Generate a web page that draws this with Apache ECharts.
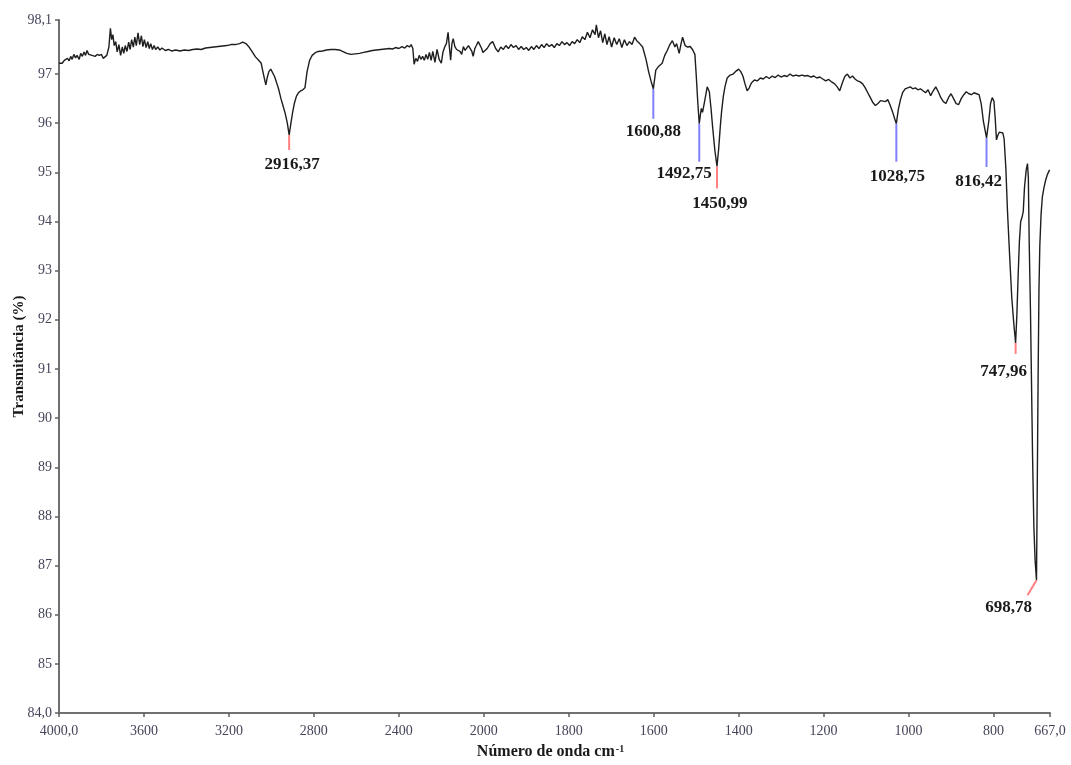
<!DOCTYPE html>
<html>
<head>
<meta charset="utf-8">
<script src="https://cdn.jsdelivr.net/npm/echarts@6/dist/echarts.min.js"></script>
<style>
  html, body { margin: 0; padding: 0; background: #ffffff; }
  #chart { width: 1071px; height: 765px; }
</style>
</head>
<body>
<div id="chart"></div>
<script>
// FTIR spectrum: wavenumber (cm-1) and transmittance (%)
const wavenumber = [
  4000, 3992, 3985, 3975, 3968, 3960, 3952, 3945, 3938, 3930,
  3922, 3915, 3905, 3898, 3890, 3882, 3875, 3868, 3860, 3852,
  3845, 3838, 3830, 3820, 3810, 3800, 3792, 3784, 3775, 3765,
  3758, 3752, 3746, 3740, 3733, 3726, 3718, 3710, 3702, 3695,
  3688, 3680, 3672, 3665, 3658, 3650, 3643, 3636, 3628, 3620,
  3612, 3605, 3598, 3590, 3582, 3575, 3568, 3560, 3552, 3545,
  3535, 3525, 3515, 3500, 3485, 3470, 3450, 3430, 3410, 3390,
  3370, 3350, 3330, 3310, 3290, 3270, 3250, 3230, 3210, 3190,
  3170, 3150, 3135, 3120, 3105, 3090, 3075, 3060, 3048, 3040,
  3030, 3026, 3020, 3012, 3003, 2995, 2985, 2975, 2965, 2955,
  2945, 2935, 2925, 2916.37, 2908, 2900, 2892, 2882, 2872, 2862,
  2852, 2842, 2832, 2820, 2808, 2795, 2780, 2760, 2740, 2720,
  2700, 2680, 2660, 2645, 2625, 2605, 2585, 2565, 2545, 2525,
  2505, 2485, 2465, 2445, 2430, 2415, 2400, 2385, 2372, 2360,
  2350, 2342, 2334, 2328, 2320, 2312, 2304, 2296, 2288, 2280,
  2272, 2264, 2256, 2248, 2240, 2230, 2220, 2210, 2200, 2192,
  2184, 2176, 2168, 2162, 2156, 2150, 2144, 2136, 2128, 2120,
  2112, 2104, 2096, 2088, 2080, 2072, 2064, 2056, 2050, 2042,
  2035, 2026, 2018, 2010, 2004, 1998, 1992, 1985, 1979, 1972,
  1966, 1960, 1954, 1948, 1942, 1936, 1930, 1924, 1918, 1912,
  1906, 1900, 1894, 1888, 1882, 1876, 1870, 1864, 1858, 1852,
  1846, 1840, 1834, 1828, 1822, 1816, 1810, 1804, 1798, 1792,
  1786, 1780, 1774, 1768, 1762, 1756, 1750, 1744, 1738, 1735,
  1730, 1725, 1720, 1715, 1710, 1705, 1699, 1693, 1687, 1681,
  1675, 1669, 1663, 1657, 1651, 1645, 1640, 1633, 1626, 1618,
  1612, 1606, 1600.88, 1595, 1588, 1580, 1574, 1568, 1562, 1556,
  1550, 1546, 1540, 1536, 1532, 1526, 1520, 1514, 1508, 1503,
  1500, 1496, 1492.75, 1488, 1485, 1480, 1474, 1469, 1465, 1461,
  1456, 1450.99, 1447, 1443, 1440, 1436, 1432, 1427, 1420, 1413,
  1406, 1400, 1395, 1390, 1385, 1380, 1375, 1370, 1363, 1356,
  1349, 1342, 1335, 1328, 1321, 1314, 1307, 1300, 1293, 1286,
  1279, 1272, 1265, 1258, 1251, 1244, 1237, 1230, 1223, 1216,
  1209, 1202, 1195, 1188, 1181, 1174, 1168, 1162, 1156, 1150,
  1144, 1138, 1132, 1126, 1120, 1114, 1108, 1102, 1096, 1090,
  1084, 1078, 1072, 1066, 1060, 1054, 1049, 1044, 1038, 1033,
  1028.75, 1024, 1019, 1014, 1008, 1002, 996, 990, 984, 978,
  972, 966, 960, 954, 948, 942, 936, 930, 924, 918,
  912, 906, 900, 894, 888, 882, 876, 870, 864, 858,
  852, 846, 840, 834, 829, 824, 816.42, 811, 807, 803,
  799, 796, 793, 790, 786, 782, 778, 775, 771, 767,
  762, 757, 752, 747.96, 745, 742, 739, 736, 733, 730,
  727, 723, 720, 718, 716, 713, 711, 708, 705, 702,
  698.78, 697, 695, 693, 691, 688, 685, 681, 677, 673,
  668
];

const transmittance = [
  97.22, 97.25, 97.22, 97.28, 97.24, 97.32, 97.27, 97.36, 97.30, 97.40,
  97.33, 97.38, 97.30, 97.42, 97.36, 97.45, 97.38, 97.48, 97.40, 97.44,
  97.38, 97.42, 97.36, 97.40, 97.38, 97.40, 97.32, 97.28, 97.38, 97.55,
  97.93, 97.70, 97.80, 97.58, 97.66, 97.45, 97.60, 97.38, 97.55, 97.42,
  97.58, 97.46, 97.65, 97.50, 97.70, 97.55, 97.75, 97.58, 97.84, 97.60,
  97.78, 97.56, 97.70, 97.54, 97.66, 97.52, 97.62, 97.50, 97.58, 97.50,
  97.55, 97.49, 97.53, 97.48, 97.50, 97.47, 97.49, 97.47, 97.49, 97.48,
  97.50, 97.51, 97.50, 97.53, 97.54, 97.55, 97.56, 97.57, 97.58, 97.60,
  97.60, 97.62, 97.65, 97.62, 97.55, 97.45, 97.35, 97.28, 97.22, 97.05,
  96.85, 96.78, 96.92, 97.05, 97.10, 97.06, 96.95, 96.82, 96.68, 96.50,
  96.35, 96.20, 96.00, 95.76, 96.00, 96.22, 96.40, 96.55, 96.62, 96.66,
  96.68, 96.72, 97.05, 97.28, 97.38, 97.43, 97.46, 97.47, 97.49, 97.50,
  97.50, 97.49, 97.45, 97.42, 97.40, 97.41, 97.42, 97.44, 97.46, 97.48,
  97.49, 97.50, 97.51, 97.52, 97.51, 97.54, 97.52, 97.56, 97.53, 97.58,
  97.55, 97.60, 97.52, 97.20, 97.32, 97.26, 97.38, 97.30, 97.36, 97.28,
  97.40, 97.30, 97.44, 97.28, 97.46, 97.24, 97.50, 97.30, 97.22, 97.45,
  97.55, 97.62, 97.85, 97.55, 97.28, 97.62, 97.72, 97.56, 97.50, 97.54,
  97.46, 97.40, 97.56, 97.48, 97.44, 97.58, 97.62, 97.46, 97.36, 97.52,
  97.58, 97.66, 97.70, 97.52, 97.44, 97.40, 97.52, 97.62, 97.66, 97.52,
  97.45, 97.55, 97.50, 97.58, 97.52, 97.60, 97.54, 97.58, 97.50, 97.56,
  97.50, 97.54, 97.48, 97.56, 97.50, 97.58, 97.52, 97.60, 97.54, 97.62,
  97.56, 97.60, 97.54, 97.62, 97.58, 97.66, 97.60, 97.64, 97.58, 97.66,
  97.62, 97.70, 97.64, 97.76, 97.70, 97.85, 97.74, 97.90, 97.80, 98.00,
  97.74, 97.88, 97.64, 97.82, 97.60, 97.76, 97.55, 97.74, 97.60, 97.72,
  97.54, 97.70, 97.58, 97.66, 97.60, 97.75, 97.68, 97.62, 97.55, 97.30,
  97.05, 96.85, 96.70, 97.08, 97.16, 97.22, 97.38, 97.48, 97.60, 97.68,
  97.55, 97.62, 97.42, 97.60, 97.75, 97.58, 97.55, 97.56, 97.49, 97.40,
  97.00, 96.40, 95.99, 96.30, 96.22, 96.45, 96.74, 96.64, 96.30, 95.90,
  95.45, 95.12, 95.48, 95.95, 96.25, 96.55, 96.75, 96.92, 96.98, 97.00,
  97.06, 97.10, 97.05, 96.96, 96.80, 96.66, 96.72, 96.82, 96.88, 96.86,
  96.92, 96.90, 96.95, 96.91, 96.96, 96.93, 96.98, 96.94, 96.97, 96.95,
  97.00, 96.96, 96.98, 96.96, 96.98, 96.96, 96.97, 96.94, 96.96, 96.92,
  96.94, 96.90, 96.86, 96.89, 96.84, 96.80, 96.74, 96.66, 96.82, 96.95,
  97.00, 96.92, 96.96, 96.90, 96.86, 96.84, 96.80, 96.72, 96.62, 96.52,
  96.42, 96.36, 96.40, 96.46, 96.45, 96.44, 96.48, 96.38, 96.24, 96.10,
  95.99, 96.28, 96.48, 96.62, 96.70, 96.72, 96.74, 96.70, 96.72, 96.68,
  96.70, 96.66, 96.62, 96.68, 96.56, 96.66, 96.74, 96.64, 96.52, 96.44,
  96.40, 96.52, 96.60, 96.50, 96.40, 96.38, 96.50, 96.58, 96.64, 96.60,
  96.58, 96.62, 96.60, 96.58, 96.40, 96.05, 95.70, 96.05, 96.40, 96.52,
  96.45, 96.10, 95.66, 95.75, 95.82, 95.85, 95.80, 95.68, 95.10, 94.20,
  93.30, 92.45, 91.90, 91.53, 92.10, 92.90, 93.60, 94.00, 94.08, 94.20,
  94.70, 95.05, 95.18, 94.90, 93.60, 92.20, 91.00, 89.20, 87.80, 87.10,
  86.70, 88.60, 90.80, 92.60, 93.50, 94.15, 94.50, 94.70, 94.85, 94.96,
  95.05
];

// Axis ticks
const xTickLabels = [4000, 3600, 3200, 2800, 2400, 2000, 1800, 1600, 1400, 1200, 1000, 800, 667];
const yTickLabels = [84, 85, 86, 87, 88, 89, 90, 91, 92, 93, 94, 95, 96, 97, 98.1];

// Picked peaks
const peakWavenumber = [2916.37, 1600.88, 1492.75, 1450.99, 1028.75, 816.42, 747.96, 698.78];
const peakTransmittance = [95.76, 96.70, 95.99, 95.12, 95.99, 95.70, 91.53, 86.70];

// Callout drawing: marker stroke end (ex, ey) and label centre (dx, dy), in px from the peak
const RED = '#ff8080', BLUE = '#8080ff';
const calloutLayout = [
  { color: RED,  ex: 0,  ey: 15, dx: 3,   dy: 30 },
  { color: BLUE, ex: 0,  ey: 30, dx: 0,   dy: 43 },
  { color: BLUE, ex: 0,  ey: 38, dx: -15, dy: 50 },
  { color: RED,  ex: 0,  ey: 22, dx: 3,   dy: 37 },
  { color: BLUE, ex: 0,  ey: 38, dx: 1,   dy: 53 },
  { color: BLUE, ex: 0,  ey: 29, dx: -8,  dy: 44 },
  { color: RED,  ex: 0,  ey: 11, dx: -12, dy: 29 },
  { color: RED,  ex: -9, ey: 15, dx: -28, dy: 27 }
];

// The wavenumber axis is compressed 2:1 above 2000 cm-1
function toAxis(w) { return w >= 2000 ? 4000 - w : 2000 + 2 * (2000 - w); }
function fromAxis(t) { return t <= 2000 ? 4000 - t : 2000 - (t - 2000) / 2; }

const decimalComma = (v, d) => v.toFixed(d).replace('.', ',');
const xMin = toAxis(xTickLabels[0]);
const xMax = toAxis(xTickLabels[xTickLabels.length - 1]);
const yMin = yTickLabels[0];
const yMax = yTickLabels[yTickLabels.length - 1];

const spectrum = wavenumber.map((w, i) => [toAxis(w), transmittance[i]]);
const peaks = peakWavenumber.map((w, i) => [toAxis(w), peakTransmittance[i]]);

const SERIF = '"Liberation Serif", "Times New Roman", serif';
const chart = echarts.init(document.getElementById('chart'));

chart.setOption({
  animation: false,
  backgroundColor: '#ffffff',
  grid: { left: 59, right: 21, top: 20, bottom: 52, containLabel: false, outerBoundsMode: 'none' },
  xAxis: {
    type: 'value',
    min: xMin,
    max: xMax,
    name: '{t|Número de onda cm}{s|-1}',
    nameLocation: 'middle',
    nameGap: 31,
    nameMoveOverlap: false,
    nameTextStyle: {
      padding: [0, 8, 0, 0],
      rich: {
        t: { fontFamily: SERIF, fontWeight: 'bold', fontSize: 16, color: '#1a1a1a' },
        s: { fontFamily: SERIF, fontWeight: 'bold', fontSize: 10, color: '#1a1a1a', padding: [0, 0, 6, 1] }
      }
    },
    axisLine: { show: true, lineStyle: { color: '#707070', width: 2 } },
    axisTick: { show: true, length: 4, customValues: xTickLabels.map(toAxis), lineStyle: { color: '#606060', width: 1.5 } },
    axisLabel: {
      customValues: xTickLabels.map(toAxis),
      margin: 11,
      fontFamily: SERIF,
      fontSize: 14,
      color: '#45455a',
      formatter: (t) => {
        const w = Math.round(fromAxis(t));
        return (t === xMin || t === xMax) ? decimalComma(w, 1) : String(w);
      }
    },
    splitLine: { show: false }
  },
  yAxis: {
    type: 'value',
    min: yMin,
    max: yMax,
    name: 'Transmitância (%)',
    nameLocation: 'middle',
    nameGap: 32,
    nameMoveOverlap: false,
    nameTextStyle: { fontFamily: SERIF, fontWeight: 'bold', fontSize: 15, color: '#1a1a1a', padding: [0, 0, 0, 20] },
    axisLine: { show: true, lineStyle: { color: '#707070', width: 2 } },
    axisTick: { show: true, length: 4, customValues: yTickLabels, lineStyle: { color: '#606060', width: 1.5 } },
    axisLabel: {
      customValues: yTickLabels,
      margin: 7,
      fontFamily: SERIF,
      fontSize: 14,
      color: '#45455a',
      padding: [0, 0, 8, 0],
      formatter: (v) => (v === yMin || v === yMax) ? decimalComma(v, 1) : String(v)
    },
    splitLine: { show: false }
  },
  series: [
    {
      type: 'line',
      data: spectrum,
      showSymbol: false,
      symbol: 'none',
      smooth: false,
      lineStyle: { color: '#1e1e1e', width: 1.4 },
      z: 2
    },
    {
      type: 'custom',
      data: peaks,
      z: 3,
      renderItem: (params, api) => {
        const i = params.dataIndex;
        const p = api.coord([api.value(0), api.value(1)]);
        const L = calloutLayout[i];
        return {
          type: 'group',
          children: [
            {
              type: 'line',
              shape: { x1: p[0], y1: p[1], x2: p[0] + L.ex, y2: p[1] + L.ey },
              style: { stroke: L.color, lineWidth: 2 }
            },
            {
              type: 'text',
              x: p[0] + L.dx,
              y: p[1] + L.dy,
              style: {
                text: decimalComma(peakWavenumber[i], 2),
                fill: '#1a1a1a',
                font: 'bold 17px ' + SERIF,
                align: 'center',
                verticalAlign: 'middle'
              }
            }
          ]
        };
      }
    }
  ]
});
</script>
</body>
</html>
